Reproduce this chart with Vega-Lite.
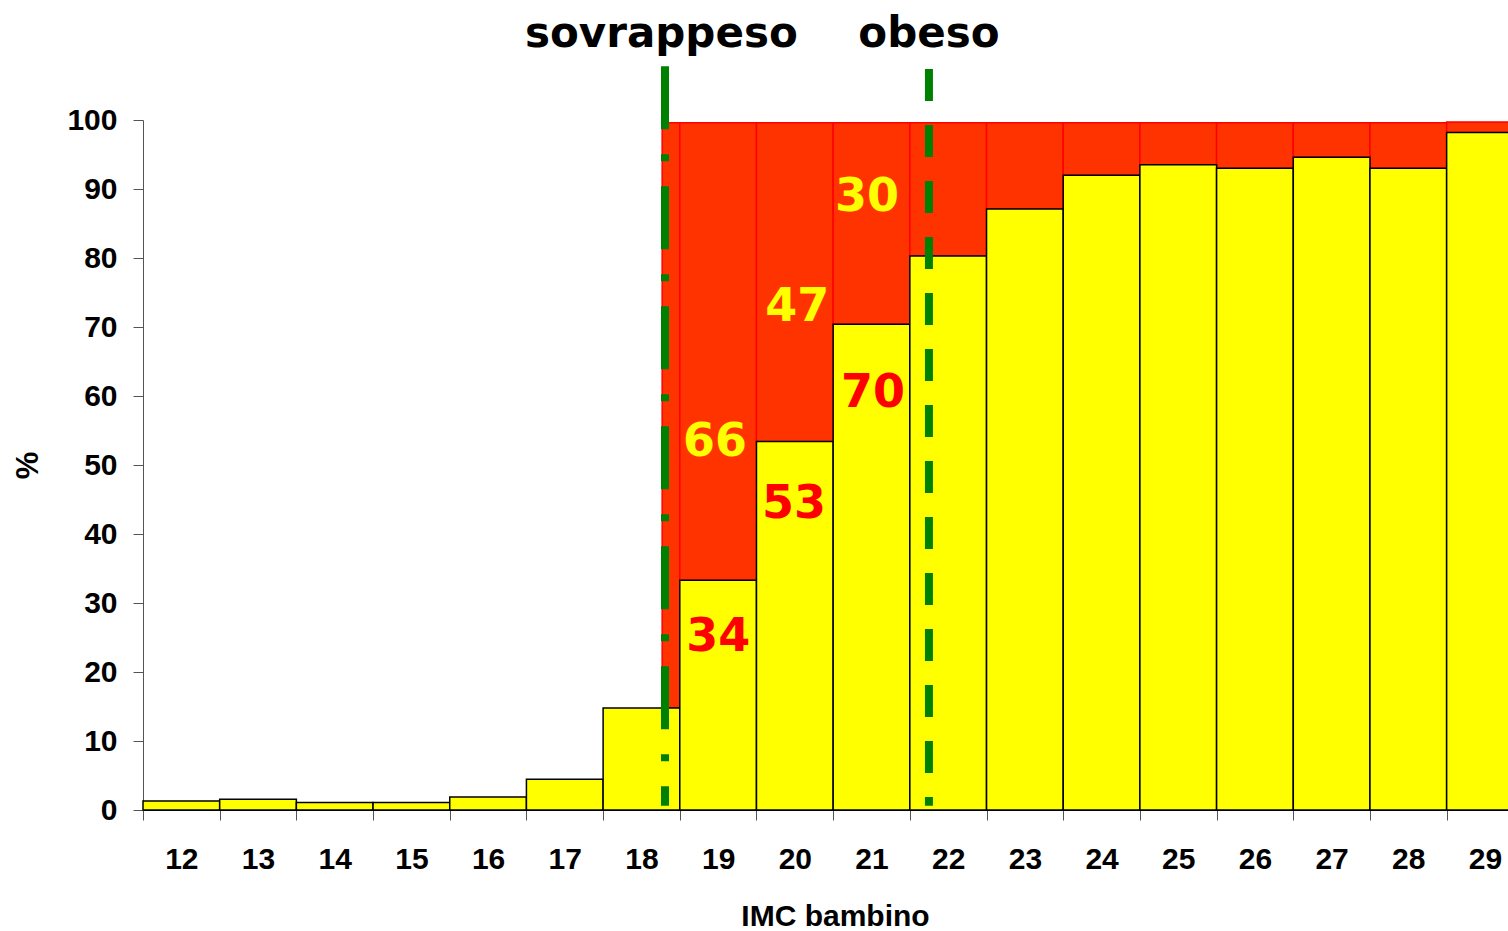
{
  "$schema": "https://vega.github.io/schema/vega-lite/v6.json",
  "width": 1365,
  "height": 690,
  "autosize": "none",
  "padding": {"left": 143, "top": 120, "right": 0, "bottom": 121},
  "background": "white",
  "config": {"view": {"stroke": null}, "font": "Liberation Sans"},
  "datasets": {
    "rects": [
      {"x0": 18.27, "x1": 18.5, "y0": 14.8, "y1": 99.6, "part": "red"},
      {"x0": 18.5, "x1": 19.5, "y0": 33.3, "y1": 99.6, "part": "red"},
      {"x0": 19.5, "x1": 20.5, "y0": 53.4, "y1": 99.6, "part": "red"},
      {"x0": 20.5, "x1": 21.5, "y0": 70.4, "y1": 99.6, "part": "red"},
      {"x0": 21.5, "x1": 22.5, "y0": 80.3, "y1": 99.6, "part": "red"},
      {"x0": 22.5, "x1": 23.5, "y0": 87.1, "y1": 99.6, "part": "red"},
      {"x0": 23.5, "x1": 24.5, "y0": 92.0, "y1": 99.6, "part": "red"},
      {"x0": 24.5, "x1": 25.5, "y0": 93.5, "y1": 99.6, "part": "red"},
      {"x0": 25.5, "x1": 26.5, "y0": 93.0, "y1": 99.6, "part": "red"},
      {"x0": 26.5, "x1": 27.5, "y0": 94.6, "y1": 99.6, "part": "red"},
      {"x0": 27.5, "x1": 28.5, "y0": 93.0, "y1": 99.6, "part": "red"},
      {"x0": 28.5, "x1": 29.5, "y0": 98.2, "y1": 99.7, "part": "red"},
      {"x0": 11.5, "x1": 12.5, "y0": 0, "y1": 1.3, "part": "yellow"},
      {"x0": 12.5, "x1": 13.5, "y0": 0, "y1": 1.55, "part": "yellow"},
      {"x0": 13.5, "x1": 14.5, "y0": 0, "y1": 1.1, "part": "yellow"},
      {"x0": 14.5, "x1": 15.5, "y0": 0, "y1": 1.1, "part": "yellow"},
      {"x0": 15.5, "x1": 16.5, "y0": 0, "y1": 1.9, "part": "yellow"},
      {"x0": 16.5, "x1": 17.5, "y0": 0, "y1": 4.45, "part": "yellow"},
      {"x0": 17.5, "x1": 18.5, "y0": 0, "y1": 14.8, "part": "yellow"},
      {"x0": 18.5, "x1": 19.5, "y0": 0, "y1": 33.3, "part": "yellow"},
      {"x0": 19.5, "x1": 20.5, "y0": 0, "y1": 53.4, "part": "yellow"},
      {"x0": 20.5, "x1": 21.5, "y0": 0, "y1": 70.4, "part": "yellow"},
      {"x0": 21.5, "x1": 22.5, "y0": 0, "y1": 80.3, "part": "yellow"},
      {"x0": 22.5, "x1": 23.5, "y0": 0, "y1": 87.1, "part": "yellow"},
      {"x0": 23.5, "x1": 24.5, "y0": 0, "y1": 92.0, "part": "yellow"},
      {"x0": 24.5, "x1": 25.5, "y0": 0, "y1": 93.5, "part": "yellow"},
      {"x0": 25.5, "x1": 26.5, "y0": 0, "y1": 93.0, "part": "yellow"},
      {"x0": 26.5, "x1": 27.5, "y0": 0, "y1": 94.6, "part": "yellow"},
      {"x0": 27.5, "x1": 28.5, "y0": 0, "y1": 93.0, "part": "yellow"},
      {"x0": 28.5, "x1": 29.5, "y0": 0, "y1": 98.2, "part": "yellow"}
    ],
    "numbers": [
      {"x": 18.96, "y": 53.3, "t": "66", "c": "y"},
      {"x": 19.0, "y": 25.1, "t": "34", "c": "r"},
      {"x": 20.03, "y": 72.9, "t": "47", "c": "y"},
      {"x": 19.99, "y": 44.3, "t": "53", "c": "r"},
      {"x": 20.94, "y": 88.8, "t": "30", "c": "y"},
      {"x": 21.02, "y": 60.4, "t": "70", "c": "r"}
    ],
    "lines": [
      {"x": 18.307, "y": 107.8, "y2": 0.6, "k": "sovrappeso"},
      {"x": 21.749, "y": 107.4, "y2": 0.6, "k": "obeso"}
    ],
    "heads": [
      {"x": 18.26, "y": 110.6, "t": "sovrappeso"},
      {"x": 21.749, "y": 110.6, "t": "obeso"}
    ]
  },
  "layer": [
    {
      "data": {"name": "rects"},
      "mark": {"type": "rect", "strokeWidth": 1.5},
      "encoding": {
        "x": {
          "field": "x0", "type": "quantitative",
          "scale": {"domain": [11.5, 29.3], "nice": false, "zero": false},
          "axis": {
            "title": "IMC bambino",
            "values": [12, 13, 14, 15, 16, 17, 18, 19, 20, 21, 22, 23, 24, 25, 26, 27, 28, 29],
            "format": "d",
            "tickOffset": -38.35,
            "labelOffset": 38.35,
            "tickSize": 10,
            "tickColor": "#555555",
            "domainColor": "#000000",
            "domainWidth": 1,
            "grid": false,
            "labelFont": "Liberation Sans",
            "labelFontWeight": "bold",
            "labelFontSize": 30,
            "labelColor": "#000000",
            "labelPadding": 24,
            "labelFlush": false,
            "labelOverlap": false,
            "labelBound": false,
            "titleFont": "Liberation Sans",
            "titleFontWeight": "bold",
            "titleFontSize": 30,
            "titleColor": "#000000",
            "titleX": 692,
            "titleY": 106,
            "titleBaseline": "middle",
            "titleAlign": "center"
          }
        },
        "x2": {"field": "x1"},
        "y": {
          "field": "y0", "type": "quantitative",
          "scale": {"domain": [0, 100], "nice": false},
          "axis": {
            "title": "%",
            "values": [0, 10, 20, 30, 40, 50, 60, 70, 80, 90, 100],
            "tickSize": 10,
            "tickColor": "#555555",
            "domainColor": "#555555",
            "grid": false,
            "labelFont": "Liberation Sans",
            "labelFontWeight": "bold",
            "labelFontSize": 30,
            "labelColor": "#000000",
            "labelPadding": 16,
            "labelFlush": false,
            "titleFont": "Liberation Sans",
            "titleFontWeight": "bold",
            "titleFontSize": 31,
            "titleColor": "#000000",
            "titleX": -115,
            "titleY": 345,
            "titleAngle": -90,
            "titleBaseline": "middle",
            "titleAlign": "center"
          }
        },
        "y2": {"field": "y1"},
        "fill": {
          "field": "part", "type": "nominal",
          "scale": {"domain": ["yellow", "red"], "range": ["#ffff00", "#ff3300"]},
          "legend": null
        },
        "stroke": {
          "field": "part", "type": "nominal",
          "scale": {"domain": ["yellow", "red"], "range": ["#000000", "#ff0000"]},
          "legend": null
        }
      }
    },
    {
      "data": {"name": "lines"},
      "mark": {"type": "rule", "strokeWidth": 8, "color": "#008000", "strokeCap": "butt"},
      "encoding": {
        "x": {"field": "x", "type": "quantitative"},
        "y": {"field": "y", "type": "quantitative"},
        "y2": {"field": "y2"},
        "strokeDash": {
          "field": "k", "type": "nominal",
          "scale": {"domain": ["sovrappeso", "obeso"], "range": [[63, 25, 7, 25], [32, 24]]},
          "legend": null
        }
      }
    },
    {
      "data": {"name": "numbers"},
      "mark": {"type": "text", "font": "DejaVu Sans", "fontWeight": "bold", "fontSize": 46, "align": "center", "baseline": "middle"},
      "encoding": {
        "x": {"field": "x", "type": "quantitative"},
        "y": {"field": "y", "type": "quantitative"},
        "text": {"field": "t"},
        "color": {
          "field": "c", "type": "nominal",
          "scale": {"domain": ["y", "r"], "range": ["#ffff00", "#ff0000"]},
          "legend": null
        }
      }
    },
    {
      "data": {"name": "heads"},
      "mark": {"type": "text", "font": "DejaVu Sans", "fontWeight": "bold", "fontSize": 42, "align": "center", "baseline": "alphabetic", "color": "#000000"},
      "encoding": {
        "x": {"field": "x", "type": "quantitative"},
        "y": {"field": "y", "type": "quantitative"},
        "text": {"field": "t"}
      }
    }
  ]
}
